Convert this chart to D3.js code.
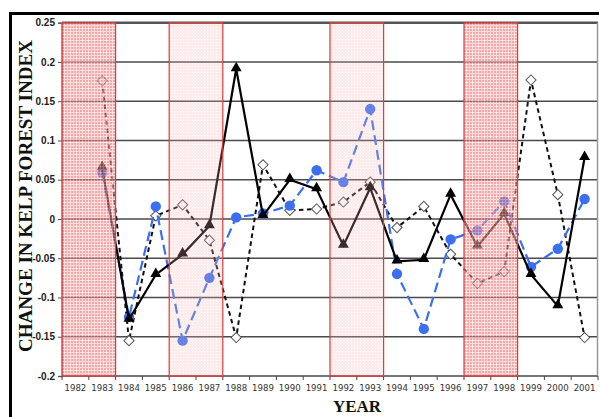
<!DOCTYPE html>
<html><head><meta charset="utf-8">
<script src="https://cdn.jsdelivr.net/npm/d3@7"></script>
<style>html,body{margin:0;padding:0;background:#fff;}svg{display:block;}</style>
</head><body>
<svg id="c" width="599" height="417"></svg>
<script>
const years = ["1982","1983","1984","1985","1986","1987","1988","1989","1990","1991","1992","1993","1994","1995","1996","1997","1998","1999","2000","2001"];
const seriesYears = years.slice(1);
const triangleSeries = [0.065,-0.128,-0.071,-0.045,-0.009,0.191,0.004,0.05,0.038,-0.034,0.0395,-0.054,-0.052,0.031,-0.035,0.0065,-0.071,-0.111,0.078];
const circleSeries = [0.059,-0.125,0.016,-0.155,-0.075,0.002,0.007,0.017,0.062,0.047,0.14,-0.07,-0.14,-0.026,-0.0145,0.0224,-0.061,-0.038,0.0255];
const diamondSeries = [0.176,-0.155,0.004,0.018,-0.027,-0.151,0.069,0.011,0.0127,0.0216,0.047,-0.011,0.016,-0.045,-0.082,-0.067,0.177,0.031,-0.151];
const yTicks = [-0.2,-0.15,-0.1,-0.05,0,0.05,0.1,0.15,0.2,0.25];
const yTickLabels = ["-0.2","-0.15","-0.1","-0.05","0","0.05","0.1","0.15","0.2","0.25"];
const strongBands = [["1982","1983"],["1997","1998"]];
const lightBands = [["1986","1987"],["1992","1993"]];

const svg = d3.select("#c");
const x = d3.scaleBand().domain(years).range([62, 598]);
const y = d3.scaleLinear().domain([-0.2, 0.25]).range([376, 22.7]);
const cx = yr => x(yr) + x.bandwidth()/2;

// outer black frame
svg.append("rect").attr("x",9).attr("y",12).attr("width",590).attr("height",3).attr("fill","#000");
svg.append("rect").attr("x",9).attr("y",12).attr("width",3).attr("height",405).attr("fill","#000");

// patterns
const defs = svg.append("defs");
const p = defs.append("pattern").attr("id","strong").attr("patternUnits","userSpaceOnUse")
  .attr("width",6).attr("height",6);
p.append("rect").attr("width",6).attr("height",6).attr("fill","#ec6e6e");
[1,4].forEach(o=>{
  p.append("rect").attr("x",o).attr("y",0).attr("width",1).attr("height",6).attr("fill","#f8c4c4");
  p.append("rect").attr("x",0).attr("y",o).attr("width",6).attr("height",1).attr("fill","#f8c4c4");
});
p.append("rect").attr("x",4).attr("y",4).attr("width",1).attr("height",1).attr("fill","#fff");

const lp = defs.append("pattern").attr("id","light").attr("patternUnits","userSpaceOnUse")
  .attr("width",3).attr("height",3);
lp.append("rect").attr("width",3).attr("height",3).attr("fill","#f3b0b0");
lp.append("rect").attr("width",1).attr("height",1).attr("fill","#fff");

// gridlines
svg.append("g").selectAll("line").data(yTicks).join("line")
  .attr("x1",62).attr("x2",598).attr("y1",d=>y(d)).attr("y2",d=>y(d))
  .attr("stroke",d=>d===0.25?"#555":"#4a4a4a").attr("stroke-width",d=>d===0.25?2.5:1.6);
// right border
svg.append("line").attr("x1",597.5).attr("x2",597.5).attr("y1",y(0.25)).attr("y2",y(-0.2))
  .attr("stroke","#999").attr("stroke-width",1.5);

// y axis
const yAxis = d3.axisLeft(y).tickValues(yTicks).tickSize(4).tickFormat((d,i)=>yTickLabels[i]);
const ya = svg.append("g").attr("transform","translate(62,0)").call(yAxis);
ya.select(".domain").attr("stroke","#777").attr("stroke-width",1.5);
ya.selectAll(".tick line").attr("stroke","#555");
ya.selectAll(".tick text").attr("font-family","'Liberation Sans',Arial,sans-serif")
  .attr("font-weight","bold").attr("font-size","10px").attr("fill","#222").attr("x",-7);

// x axis
const xa = svg.append("g").attr("transform","translate(0,376)");
xa.append("line").attr("x1",62).attr("x2",598).attr("stroke","#777").attr("stroke-width",1.5);
xa.selectAll("line.tk").data(years.concat(["end"])).join("line").attr("class","tk")
  .attr("x1",(d,i)=>x.range()[0]+i*x.step()).attr("x2",(d,i)=>x.range()[0]+i*x.step())
  .attr("y1",0).attr("y2",4).attr("stroke","#444").attr("stroke-width",1);
xa.selectAll("text").data(years).join("text")
  .attr("x",d=>cx(d)).attr("y",15).attr("text-anchor","middle")
  .attr("font-family","'DejaVu Sans',Verdana,sans-serif").attr("font-size","8.6px").attr("fill","#333")
  .text(d=>d);

// series
const line = d3.line().x(d=>cx(d[0])).y(d=>y(d[1]));
const zip = arr => seriesYears.map((yr,i)=>[yr,arr[i]]);

svg.append("path").datum(zip(diamondSeries)).attr("d",line).attr("fill","none")
  .attr("stroke","#111").attr("stroke-width",2).attr("stroke-dasharray","4.5,3.5");
svg.append("g").selectAll("path").data(zip(diamondSeries)).join("path")
  .attr("d",d3.symbol(d3.symbolSquare,52)())
  .attr("transform",d=>`translate(${cx(d[0])},${y(d[1])}) rotate(45)`)
  .attr("fill","#fff").attr("stroke","#555").attr("stroke-width",1);

svg.append("path").datum(zip(circleSeries)).attr("d",line).attr("fill","none")
  .attr("stroke","#3c6ef0").attr("stroke-width",2.2).attr("stroke-dasharray","10,5");
svg.append("g").selectAll("circle").data(zip(circleSeries)).join("circle")
  .attr("cx",d=>cx(d[0])).attr("cy",d=>y(d[1])).attr("r",5.2).attr("fill","#3c6ef0");

svg.append("path").datum(zip(triangleSeries)).attr("d",line).attr("fill","none")
  .attr("stroke","#000").attr("stroke-width",2.2);
svg.append("g").selectAll("path").data(zip(triangleSeries)).join("path")
  .attr("d",d3.symbol(d3.symbolTriangle,52)())
  .attr("transform",d=>`translate(${cx(d[0])},${y(d[1])-1})`)
  .attr("fill","#000");

// bands (drawn over with transparency)
function band(pair, fill, op){
  const x0 = x(pair[0]), x1 = x(pair[1]) + x.bandwidth();
  svg.append("rect").attr("x",x0).attr("y",y(0.25)).attr("width",x1-x0).attr("height",y(-0.2)-y(0.25))
    .attr("fill",fill).attr("opacity",op);
  svg.append("rect").attr("x",x0).attr("y",y(0.25)).attr("width",x1-x0).attr("height",y(-0.2)-y(0.25))
    .attr("fill","none").attr("stroke","#e23a3a").attr("stroke-width",1.2);
}
strongBands.forEach(b=>band(b,"url(#strong)",0.6));
lightBands.forEach(b=>band(b,"url(#light)",0.24));

// axis titles
svg.append("text").attr("transform",`translate(32,196) rotate(-90)`).attr("text-anchor","middle")
  .attr("font-family","'Liberation Serif','Times New Roman',serif").attr("font-weight","bold")
  .attr("font-size","18px").attr("fill","#111").attr("textLength",312).attr("lengthAdjust","spacingAndGlyphs")
  .text("CHANGE IN KELP FOREST INDEX");
svg.append("text").attr("x",357).attr("y",412).attr("text-anchor","middle")
  .attr("font-family","'Liberation Serif','Times New Roman',serif").attr("font-weight","bold")
  .attr("font-size","17px").attr("fill","#111").text("YEAR");
</script>
</body></html>
